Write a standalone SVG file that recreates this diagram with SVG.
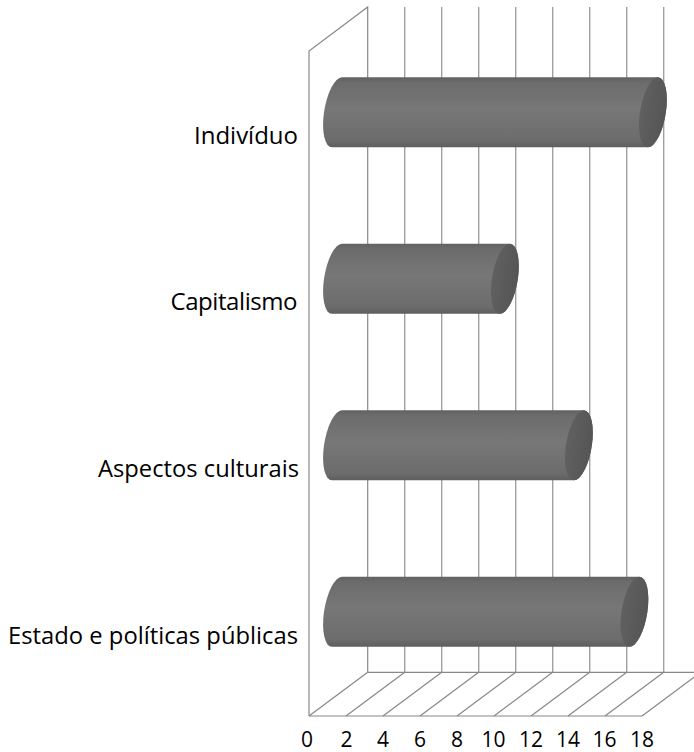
<svg xmlns="http://www.w3.org/2000/svg" width="694" height="752" viewBox="0 0 694 752">
<defs>
<linearGradient id="body" x1="0" y1="0" x2="0" y2="1">
<stop offset="0" stop-color="#626262"/>
<stop offset="0.08" stop-color="#6c6c6c"/>
<stop offset="0.45" stop-color="#777777"/>
<stop offset="0.9" stop-color="#6c6c6c"/>
<stop offset="1" stop-color="#5e5e5e"/>
</linearGradient>
<linearGradient id="cap" x1="0" y1="0" x2="1" y2="0">
<stop offset="0" stop-color="#606060"/>
<stop offset="1" stop-color="#555555"/>
</linearGradient>
</defs>
<style>
.grid{stroke:#a0a0a0;stroke-width:1.4;fill:none}
.wall{stroke:#888888;stroke-width:1.2;fill:none}
.floor{stroke:#888888;stroke-width:1.2;fill:none}
.body{fill:url(#body)}
.cap{fill:url(#cap)}
.lbl{font-family:"Open Sans","Liberation Sans",sans-serif;font-size:24px;fill:#000;text-anchor:end}
.ax{font-family:"Open Sans","Liberation Sans",sans-serif;font-size:21px;fill:#000;text-anchor:middle}
</style>
<rect width="694" height="752" fill="#ffffff"/>
<g id="grid">
<line class="grid" x1="404.7" y1="7" x2="404.7" y2="672.3"/>
<line class="grid" x1="441.7" y1="7" x2="441.7" y2="672.3"/>
<line class="grid" x1="478.7" y1="7" x2="478.7" y2="672.3"/>
<line class="grid" x1="515.7" y1="7" x2="515.7" y2="672.3"/>
<line class="grid" x1="552.7" y1="7" x2="552.7" y2="672.3"/>
<line class="grid" x1="589.7" y1="7" x2="589.7" y2="672.3"/>
<line class="grid" x1="626.7" y1="7" x2="626.7" y2="672.3"/>
<line class="grid" x1="663.7" y1="7" x2="663.7" y2="672.3"/>
<polyline class="wall" points="309,716 309,51 367.7,7 367.7,672.3"/>
<line class="floor" x1="367.7" y1="672.3" x2="694" y2="672.3"/>
<line class="floor" x1="309" y1="716" x2="642" y2="716"/>
<line class="floor" x1="309" y1="716" x2="367.7" y2="672.3"/>
<line class="floor" x1="346" y1="716" x2="404.7" y2="672.3"/>
<line class="floor" x1="383" y1="716" x2="441.7" y2="672.3"/>
<line class="floor" x1="420" y1="716" x2="478.7" y2="672.3"/>
<line class="floor" x1="457" y1="716" x2="515.7" y2="672.3"/>
<line class="floor" x1="494" y1="716" x2="552.7" y2="672.3"/>
<line class="floor" x1="531" y1="716" x2="589.7" y2="672.3"/>
<line class="floor" x1="568" y1="716" x2="626.7" y2="672.3"/>
<line class="floor" x1="605" y1="716" x2="663.7" y2="672.3"/>
<line class="floor" x1="642" y1="716" x2="700.7" y2="672.3"/>
</g>
<g id="bar-individuo" transform="translate(0,112.3) skewX(-8.13)">
<path class="body" d="M337,-35 L652.9,-35 A13,35 0 0 1 652.9,35 L337,35 A13,35 0 0 1 337,-35 Z"/>
<ellipse class="cap" cx="652.9" cy="0" rx="13" ry="35"/>
</g>
<g id="bar-capitalismo" transform="translate(0,278.8) skewX(-8.13)">
<path class="body" d="M337,-35 L504.9,-35 A13,35 0 0 1 504.9,35 L337,35 A13,35 0 0 1 337,-35 Z"/>
<ellipse class="cap" cx="504.9" cy="0" rx="13" ry="35"/>
</g>
<g id="bar-aspectos" transform="translate(0,445.3) skewX(-8.13)">
<path class="body" d="M337,-35 L578.9,-35 A13,35 0 0 1 578.9,35 L337,35 A13,35 0 0 1 337,-35 Z"/>
<ellipse class="cap" cx="578.9" cy="0" rx="13" ry="35"/>
</g>
<g id="bar-estado" transform="translate(0,611.8) skewX(-8.13)">
<path class="body" d="M337,-35 L634.4,-35 A13,35 0 0 1 634.4,35 L337,35 A13,35 0 0 1 337,-35 Z"/>
<ellipse class="cap" cx="634.4" cy="0" rx="13" ry="35"/>
</g>
<g id="category-labels">
<text class="lbl" x="298" y="144.3" textLength="104" lengthAdjust="spacing">Indivíduo</text>
<text class="lbl" x="297.5" y="310" textLength="127" lengthAdjust="spacing">Capitalismo</text>
<text class="lbl" x="299" y="477.3" textLength="201" lengthAdjust="spacingAndGlyphs">Aspectos culturais</text>
<text class="lbl" x="298" y="644" textLength="290" lengthAdjust="spacingAndGlyphs">Estado e políticas públicas</text>
</g>
<g id="axis-labels">
<text class="ax" x="307" y="746.5">0</text>
<text class="ax" x="346.5" y="746.5">2</text>
<text class="ax" x="383" y="746.5">4</text>
<text class="ax" x="420" y="746.5">6</text>
<text class="ax" x="457" y="746.5">8</text>
<text class="ax" x="493.5" y="746.5">10</text>
<text class="ax" x="531" y="746.5">12</text>
<text class="ax" x="568" y="746.5">14</text>
<text class="ax" x="604.5" y="746.5">16</text>
<text class="ax" x="642" y="746.5">18</text>
</g>
</svg>
